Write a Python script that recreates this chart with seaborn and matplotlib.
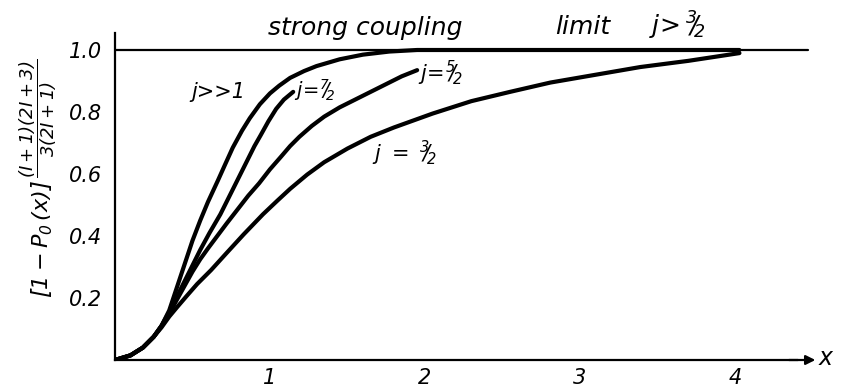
import numpy as np
import pandas as pd
import matplotlib
matplotlib.use("Agg")
import matplotlib.pyplot as plt
import seaborn as sns

# ---- data ----
x_jinf = [0.00, 0.10, 0.18, 0.25, 0.30, 0.35, 0.40, 0.45, 0.50, 0.55, 0.60, 0.665, 0.71, 0.76,
          0.82, 0.87, 0.935, 1.00, 1.06, 1.13, 1.22, 1.30, 1.45, 1.60, 1.77, 1.95, 2.40, 3.00, 4.03]
y_jinf = [0.000, 0.015, 0.040, 0.075, 0.110, 0.160, 0.235, 0.310, 0.385, 0.450, 0.510, 0.580, 0.630, 0.685,
          0.740, 0.780, 0.825, 0.860, 0.885, 0.910, 0.932, 0.948, 0.970, 0.985, 0.995, 1.000, 1.000, 1.000, 1.000]

x_j72 = [0.00, 0.10, 0.18, 0.25, 0.30, 0.35, 0.40, 0.45, 0.50, 0.55, 0.61, 0.68, 0.735, 0.79,
         0.85, 0.90, 0.94, 0.99, 1.04, 1.09, 1.15]
y_j72 = [0.000, 0.015, 0.040, 0.075, 0.110, 0.155, 0.205, 0.255, 0.305, 0.355, 0.410, 0.470, 0.525, 0.580,
         0.640, 0.690, 0.725, 0.770, 0.810, 0.840, 0.865]

x_j52 = [0.00, 0.10, 0.18, 0.25, 0.30, 0.35, 0.40, 0.45, 0.50, 0.55, 0.60, 0.66, 0.72, 0.79,
         0.86, 0.93, 1.00, 1.07, 1.13, 1.19, 1.27, 1.35, 1.45, 1.55, 1.65, 1.75, 1.85, 1.95]
y_j52 = [0.000, 0.015, 0.040, 0.075, 0.110, 0.150, 0.195, 0.240, 0.285, 0.325, 0.360, 0.400, 0.440, 0.485,
         0.530, 0.570, 0.615, 0.655, 0.690, 0.720, 0.755, 0.785, 0.815, 0.840, 0.865, 0.890, 0.915, 0.935]

x_j32 = [0.00, 0.10, 0.18, 0.25, 0.30, 0.35, 0.40, 0.46, 0.53, 0.62, 0.72, 0.83, 0.955, 1.05,
         1.13, 1.24, 1.35, 1.50, 1.65, 1.80, 2.05, 2.30, 2.55, 2.81, 3.10, 3.39, 3.70, 4.03]
y_j32 = [0.000, 0.015, 0.040, 0.075, 0.105, 0.140, 0.170, 0.205, 0.245, 0.290, 0.345, 0.405, 0.470, 0.515,
         0.552, 0.598, 0.638, 0.682, 0.720, 0.750, 0.795, 0.835, 0.865, 0.895, 0.920, 0.945, 0.965, 0.990]

limit_x = [0, 4.47]
limit_y = [1.0, 1.0]

y_ticks = [0.2, 0.4, 0.6, 0.8, 1.0]
y_ticklabels = ["0.2", "0.4", "0.6", "0.8", "1.0"]
x_ticks = [1, 2, 3, 4]
x_ticklabels = ["1", "2", "3", "4"]

series = [("jinf", x_jinf, y_jinf), ("j72", x_j72, y_j72),
          ("j52", x_j52, y_j52), ("j32", x_j32, y_j32)]
df = pd.concat([pd.DataFrame({"x": xs, "y": ys, "curve": name}) for name, xs, ys in series],
               ignore_index=True)

# ---- style ----
sns.set_style("white")
plt.rcParams["font.family"] = ["DejaVu Sans"]
plt.rcParams["font.style"] = "italic"
plt.rcParams["text.color"] = "black"
plt.rcParams["xtick.color"] = "black"
plt.rcParams["ytick.color"] = "black"
plt.rcParams["mathtext.fontset"] = "custom"
plt.rcParams["mathtext.rm"] = "DejaVu Sans:italic"
plt.rcParams["mathtext.it"] = "DejaVu Sans:italic"
plt.rcParams["mathtext.sf"] = "DejaVu Sans:italic"

fig = plt.figure(figsize=(8.43, 3.90), dpi=100)
ax = fig.add_axes([115 / 843, 30 / 390, 705 / 843, 341 / 390])

sns.lineplot(data=df, x="x", y="y", hue="curve", units="curve", estimator=None,
             sort=False, palette=["black"] * 4, linewidth=3.0, legend=False, ax=ax,
             solid_capstyle="round", solid_joinstyle="round")
sns.lineplot(x=limit_x, y=limit_y, color="black", linewidth=1.6, sort=False, ax=ax)

ax.set_xlim(0, 4.55)
ax.set_ylim(0, 1.1)
ax.set_xlabel("")
ax.set_ylabel("")

for s in ["top", "right"]:
    ax.spines[s].set_visible(False)
ax.spines["left"].set_bounds(0, 1.055)
ax.spines["bottom"].set_bounds(0, 4.4)
for s in ["left", "bottom"]:
    ax.spines[s].set_linewidth(1.6)
    ax.spines[s].set_color("black")

ax.annotate("", xy=(4.52, 0), xytext=(4.35, 0),
            arrowprops=dict(arrowstyle="-|>", lw=1.6, color="black",
                            mutation_scale=14, shrinkA=0, shrinkB=0),
            annotation_clip=False)
ax.text(4.585, 0.005, "x", fontsize=17, va="center", ha="center", style="italic")

ax.set_yticks(y_ticks)
ax.set_yticklabels(y_ticklabels, fontsize=15, style="italic")
ax.set_xticks(x_ticks)
ax.set_xticklabels(x_ticklabels, fontsize=15, style="italic")
ax.tick_params(axis="y", direction="inout", length=8, width=1.3, pad=5)
ax.tick_params(axis="x", direction="in", length=5, width=1.3, pad=6)

# curve labels
ax.text(0.665, 0.865, "j>>1", fontsize=15, ha="center", va="center", style="italic")
ax.text(1.29, 0.87, r"$j\!=\!{}^{7}\!\!/\!_{2}$", fontsize=14, ha="center", va="center")
ax.text(2.10, 0.925, r"$j\!=\!{}^{5}\!\!/\!_{2}$", fontsize=15, ha="center", va="center")
ax.text(1.87, 0.665, r"$j\ =\ {}^{3}\!\!/\!_{2}$", fontsize=15, ha="center", va="center")

# top annotation
ax.text(1.613, 1.05, "strong coupling", fontsize=18, ha="center", va="baseline", clip_on=False)
ax.text(3.02, 1.05, "limit", fontsize=18, ha="center", va="baseline", clip_on=False)
ax.text(3.63, 1.05, r"$j\!>{}^{3}\!\!/\!_{2}$", fontsize=18, ha="center", va="baseline", clip_on=False)

# y-axis label: bracket and exponent fraction
fig.text(42 / 843, 1 - 239 / 390, r"$\left[1-P_{0}\,(x)\right]$",
         rotation=90, fontsize=16, ha="center", va="center")
fig.text(38 / 843, 1 - 118 / 390, r"$\dfrac{(I+1)(2I+3)}{3(2I+1)}$",
         rotation=90, fontsize=13, ha="center", va="center")

fig.savefig("out.png", dpi=100, facecolor="white")
